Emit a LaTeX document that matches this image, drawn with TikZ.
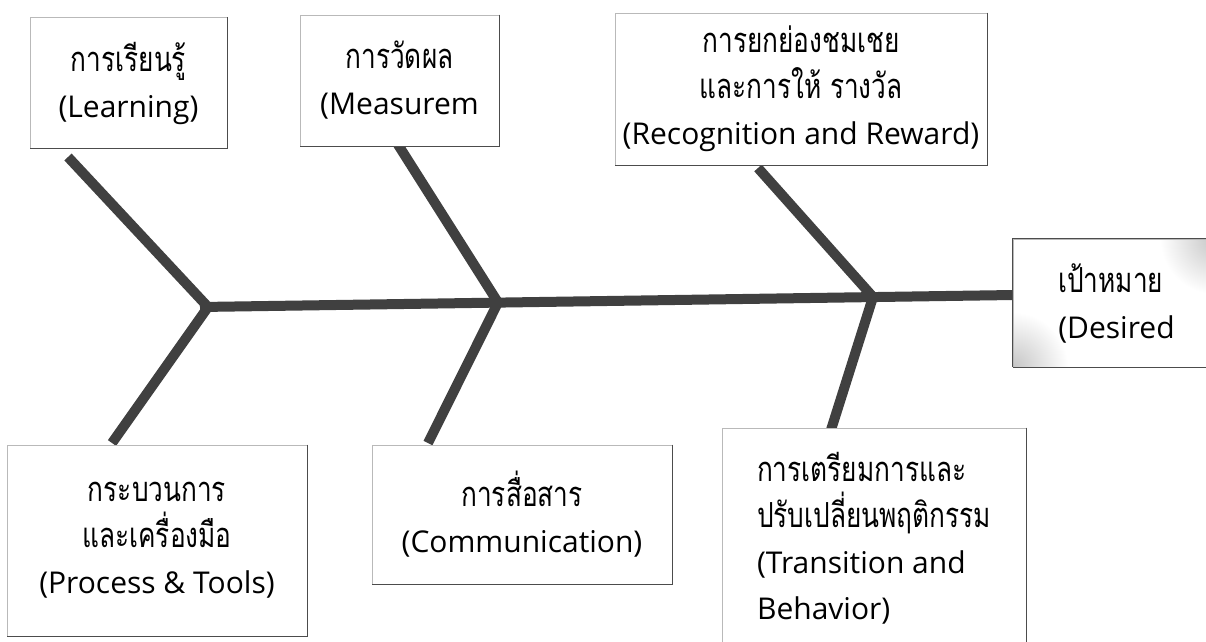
\documentclass[tikz,border=0pt]{standalone}
\usepackage{fontspec}
\setmainfont{Open Sans}
\newfontfamily\thai[Script=Thai, Scale=1.15, FakeStretch=0.76]{Loma}
\begin{document}
\begin{tikzpicture}[x=1pt,y=-1pt,
  box/.style={draw=gray!55, line width=0.6pt, inner sep=0pt, align=center,
    font=\fontsize{30}{46}\selectfont},
  bone/.style={line width=10pt, draw=black!75, line cap=butt},
  edge/.style={draw=black!70, line width=1pt}]
\useasboundingbox (0,0) rectangle (1206,641);
\clip (0,0) rectangle (1206,641);
\fill[white] (0,0) rectangle (1206,641);

% spine and bones
\coordinate (s0) at (200,307);
\coordinate (s1) at (1013,295);
\coordinate (j1) at (208,307);
\coordinate (j2) at (498,302.5);
\coordinate (j3) at (873,297);
\coordinate (tl) at (68,157);
\coordinate (bl) at (112,443);
\coordinate (mt) at (397,143);
\coordinate (mb) at (428,443);
\coordinate (rt) at (758,168);
\coordinate (rb) at (830,433);

\draw[bone] (s0) -- (s1);
\draw[bone] (tl) -- (j1);
\draw[bone] (j1) -- (bl);
\draw[bone] (mt) -- (j2);
\draw[bone] (j2) -- (mb);
\draw[bone] (rt) -- (j3);
\draw[bone] (j3) -- (rb);

% shading of the goal box
\begin{scope}
  \clip (1013,239) rectangle (1220,367);
  \fill[white] (1013,239) rectangle (1220,367);
  \shade[inner color=gray!45, outer color=white] (1215,239) circle (55);
  \shade[inner color=gray!45, outer color=white] (1013,367) circle (55);
\end{scope}

% boxes
\node[box, fill=white, minimum width=197, minimum height=131] (learn) at (128.5,83)
  {{\thai การเรียนรู้}\\(Learning)};
\node[box, fill=white, minimum width=199, minimum height=131] (meas) at (399.5,80.5)
  {{\thai การวัดผล}\\(Measurem};
\node[box, fill=white, minimum width=372, minimum height=152] (recog) at (801,89)
  {{\thai การยกย่องชมเชย}\\{\thai และการให้ รางวัล}\\(Recognition and Reward)};
\node[box, align=left, minimum width=207, minimum height=128] (desired) at (1116.5,303)
  {{\thai เป้าหมาย}\\(Desired};
\node[box, fill=white, minimum width=300, minimum height=191] (proc) at (157,540.5)
  {{\thai กระบวนการ}\\{\thai และเครื่องมือ}\\(Process \& Tools)};
\node[box, fill=white, minimum width=300, minimum height=139] (comm) at (522,514.5)
  {{\thai การสื่อสาร}\\(Communication)};
\node[box, fill=white, align=left, minimum width=304, minimum height=220] (trans) at (874,538)
  {{\thai การเตรียมการและ}\\{\thai ปรับเปลี่ยนพฤติกรรม}\\(Transition and\\Behavior)};

\foreach \n in {learn,meas,recog,desired,proc,comm,trans}
  \draw[edge] (\n.north east) -- (\n.south east) -- (\n.south west);
\draw[edge] (desired.south west) -- (desired.north west) -- (desired.north east);
\end{tikzpicture}
\end{document}
